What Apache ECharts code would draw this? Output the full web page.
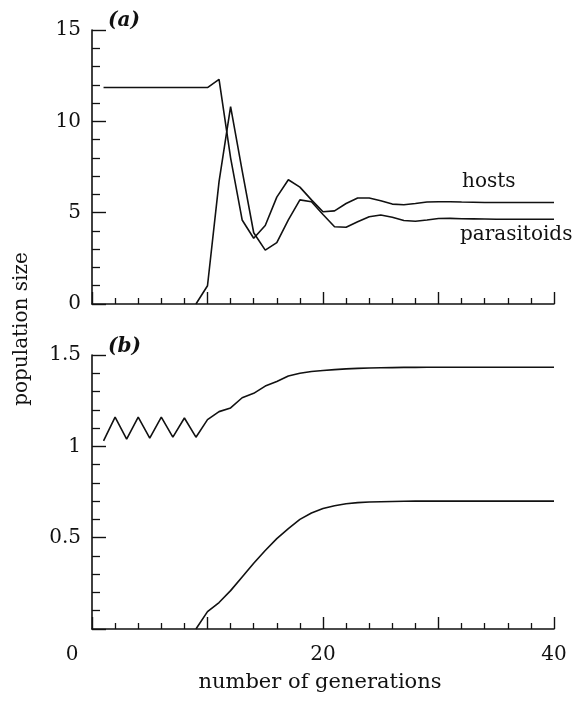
<!DOCTYPE html>
<html>
<head>
<meta charset="utf-8">
<script src="https://cdn.jsdelivr.net/npm/echarts@6/dist/echarts.min.js"></script>
<style>
  html, body { margin: 0; padding: 0; background: #fff; }
  #chart { width: 577px; height: 702px; }
</style>
</head>
<body>
<div id="chart"></div>
<script>
// generations
var generations = [1,2,3,4,5,6,7,8,9,10,11,12,13,14,15,16,17,18,19,20,21,22,23,24,25,26,27,28,29,30,31,32,33,34,35,36,37,38,39,40];

// panel (a)
var hostsA = [11.85,11.85,11.85,11.85,11.85,11.85,11.85,11.85,11.85,11.85,
              12.3,8.0,4.6,3.6,4.3,5.85,6.8,6.4,5.7,5.05,
              5.1,5.5,5.8,5.8,5.65,5.47,5.43,5.5,5.58,5.6,
              5.6,5.58,5.57,5.56,5.56,5.56,5.56,5.56,5.56,5.56];
var parasitoidsA = [null,null,null,null,null,null,null,null,0,1.0,
                    6.7,10.8,7.3,3.9,2.95,3.36,4.6,5.7,5.6,4.9,
                    4.23,4.2,4.5,4.78,4.87,4.75,4.57,4.53,4.6,4.68,
                    4.69,4.67,4.66,4.65,4.64,4.64,4.64,4.64,4.64,4.64];

// panel (b)
var hostsB = [1.03,1.16,1.04,1.16,1.045,1.16,1.05,1.155,1.05,1.146,
              1.19,1.21,1.266,1.29,1.33,1.355,1.385,1.40,1.41,1.415,
              1.42,1.424,1.427,1.429,1.43,1.431,1.432,1.432,1.433,1.433,
              1.433,1.433,1.433,1.433,1.433,1.433,1.433,1.433,1.433,1.433];
var parasitoidsB = [null,null,null,null,null,null,null,null,0,0.095,
                    0.145,0.21,0.285,0.36,0.43,0.495,0.55,0.60,0.635,0.66,
                    0.675,0.686,0.692,0.695,0.697,0.698,0.699,0.70,0.70,0.70,
                    0.70,0.70,0.70,0.70,0.70,0.70,0.70,0.70,0.70,0.70];

var xTickLabels = ['0', '20', '40'];
var yTicksA = [0, 5, 10, 15];
var yTicksB = [0.5, 1, 1.5];

function pairs(ys) {
  return generations.map(function (g, i) { return [g, ys[i]]; });
}

var FONT = 'DejaVu Serif';
var INK = '#111111';

function xAxis(idx, showLabels) {
  return {
    type: 'value', gridIndex: idx, min: 0, max: 40, interval: 10,
    axisLine: { show: true, lineStyle: { color: INK, width: 1.6 } },
    axisTick: { show: true, inside: true, length: 12, lineStyle: { color: INK, width: 1.4 } },
    minorTick: { show: true, splitNumber: 5, length: 6, lineStyle: { color: INK, width: 1.3 } },
    splitLine: { show: false },
    axisLabel: {
      show: showLabels, margin: 16, fontFamily: FONT, fontSize: 20, color: INK,
      formatter: function (v) {
        var s = String(v);
        if (xTickLabels.indexOf(s) < 0) return '';
        if (s === '0') return '{z|0}';
        return s;
      },
      rich: { z: { fontFamily: FONT, fontSize: 20, color: INK, padding: [0, 40, 0, 0] } }
    }
  };
}

function yAxis(idx, max, interval, ticks, showMin) {
  return {
    type: 'value', gridIndex: idx, min: 0, max: max, interval: interval,
    axisLine: { show: true, lineStyle: { color: INK, width: 1.6 } },
    axisTick: { show: true, inside: true, length: 14, lineStyle: { color: INK, width: 1.4 } },
    minorTick: { show: true, splitNumber: 5, length: 8, lineStyle: { color: INK, width: 1.3 } },
    splitLine: { show: false },
    axisLabel: {
      show: true, margin: 11, fontFamily: FONT, fontSize: 20, color: INK,
      showMinLabel: showMin,
      formatter: function (v) {
        var r = Math.round(v * 100) / 100;
        return ticks.indexOf(r) >= 0 ? String(r) : '';
      }
    }
  };
}

function lineSeries(name, xi, yi, ys) {
  return {
    name: name, type: 'line', xAxisIndex: xi, yAxisIndex: yi,
    data: pairs(ys), showSymbol: false, symbol: 'none', connectNulls: false,
    lineStyle: { color: INK, width: 1.6 }, silent: true, animation: false
  };
}

var chart = echarts.init(document.getElementById('chart'), null, { renderer: 'canvas' });
chart.setOption({
  backgroundColor: '#ffffff',
  animation: false,
  grid: [
    { left: 92, top: 30, width: 462, height: 274, containLabel: false, outerBoundsMode: 'none' },
    { left: 92, top: 355, width: 462, height: 274, containLabel: false, outerBoundsMode: 'none' }
  ],
  xAxis: [xAxis(0, false), xAxis(1, true)],
  yAxis: [yAxis(0, 15, 5, yTicksA, true), yAxis(1, 1.5, 0.5, yTicksB, false)],
  series: [
    lineSeries('hosts', 0, 0, hostsA),
    lineSeries('parasitoids', 0, 0, parasitoidsA),
    lineSeries('hosts', 1, 1, hostsB),
    lineSeries('parasitoids', 1, 1, parasitoidsB)
  ],
  graphic: [
    { type: 'text', left: 108, top: 11, style: { text: '(a)', font: 'italic bold 20px "DejaVu Serif"', fill: INK } },
    { type: 'text', left: 108, top: 337, style: { text: '(b)', font: 'italic bold 20px "DejaVu Serif"', fill: INK } },
    { type: 'text', left: 462, top: 172, style: { text: 'hosts', font: '20px "DejaVu Serif"', fill: INK } },
    { type: 'text', left: 460, top: 225, style: { text: 'parasitoids', font: '20px "DejaVu Serif"', fill: INK } },
    { type: 'text', x: 22, y: 329, rotation: Math.PI / 2,
      style: { text: 'population size', font: '20px "DejaVu Serif"', fill: INK, align: 'center', verticalAlign: 'middle' } },
    { type: 'text', x: 320, y: 683,
      style: { text: 'number of generations', font: '21px "DejaVu Serif"', fill: INK, align: 'center', verticalAlign: 'middle' } }
  ]
});
</script>
</body>
</html>
